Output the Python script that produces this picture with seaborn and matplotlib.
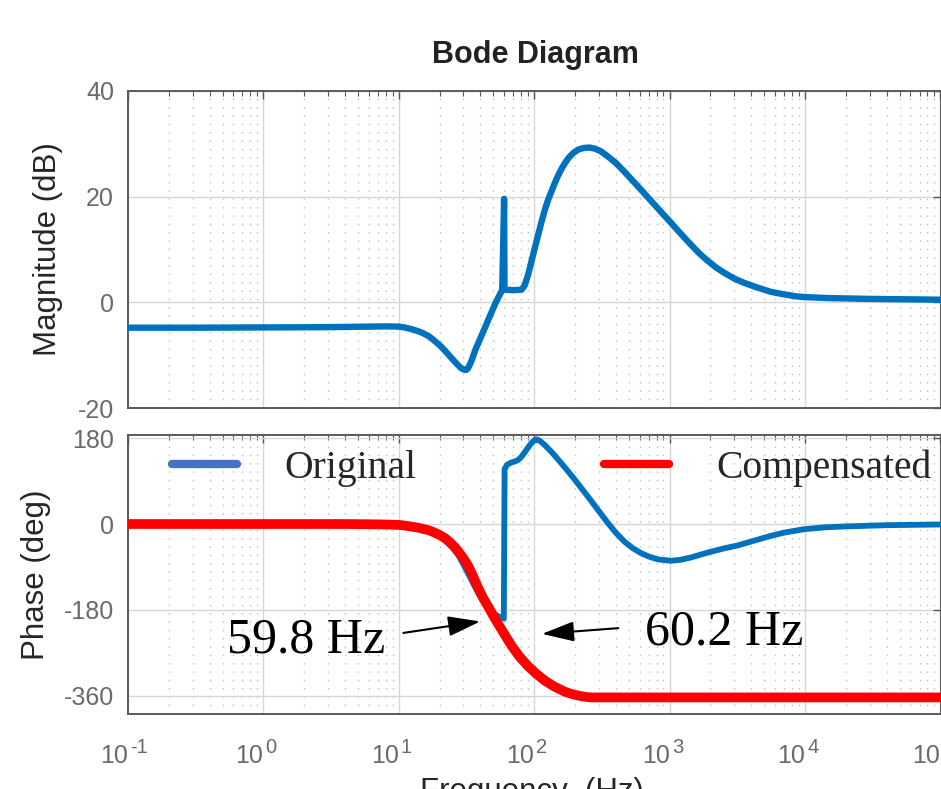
import numpy as np
import pandas as pd
import matplotlib
matplotlib.use("Agg")
import matplotlib.pyplot as plt
from matplotlib.lines import Line2D
from matplotlib.ticker import LogLocator, FixedLocator, NullFormatter
import seaborn as sns

# ---- data -------------------------------------------------------------
mag_freq = [0.1, 0.3, 1, 3, 6, 8, 10, 11, 12.5, 14, 15, 16.6, 18, 20, 22, 24,
            25, 26.5, 27.6, 29, 30.5, 31.3, 32.2, 33, 34.5, 36.6, 43.4, 51.4,
            56, 58, 59.9, 60.3, 70, 80.7, 85, 90, 95.5, 101, 107, 113, 120, 127,
            134, 142, 150, 160, 170, 180, 195, 211, 230, 256, 280, 310, 350,
            400, 464, 530, 615, 700, 817, 900, 995, 1150, 1300, 1437, 1650,
            1902, 2200, 2524, 3000, 3540, 4436, 5562, 7000, 8500, 9770, 15000,
            30200, 100000]
mag_db = [-4.8, -4.8, -4.75, -4.7, -4.6, -4.55, -4.6, -4.75, -5.1, -5.5, -5.8,
          -6.4, -7.1, -8.1, -9.2, -10.3, -10.8, -11.5, -12.0, -12.5, -12.75,
          -12.8, -12.6, -12.1, -11.0, -9.1, -4.7, -0.3, 1.6, 2.3, 19.6, 2.4,
          2.3, 2.4, 3.2, 5.2, 7.8, 10.3, 12.8, 15.2, 17.6, 19.5, 21.0, 22.6,
          24.0, 25.4, 26.5, 27.4, 28.3, 28.9, 29.2, 29.3, 29.1, 28.6, 27.6,
          26.4, 24.7, 23.1, 21.3, 19.7, 17.8, 16.6, 15.4, 13.6, 12.1, 10.9,
          9.3, 7.9, 6.6, 5.6, 4.5, 3.7, 2.8, 2.0, 1.5, 1.15, 1.0, 0.8, 0.65,
          0.5]

orig_freq = [0.1, 1, 4, 6, 8, 10, 12.5, 14, 16.6, 20, 22, 25, 27.6, 30, 32.7,
             35.5, 38.7, 42, 45.9, 50, 54, 57, 59.6, 60.4, 63, 68, 72, 76, 80,
             85, 90, 95, 101, 105, 110, 120, 135, 150, 170, 199, 230, 264, 300,
             350, 400, 464, 530, 615, 700, 817, 1023, 1200, 1437, 1900, 2524,
             3162, 4436, 5562, 7000, 9770, 14000, 20000, 40000, 100000]
orig_deg = [0, 0, 0, -0.5, -1, -2.2, -6, -9, -15, -26, -34, -50, -66, -85, -105,
            -125, -145, -162, -177, -187, -193, -196, -198, 115, 124, 129, 131,
            134, 140, 150, 160, 169, 176, 177, 174, 165, 150, 135, 117, 93, 70,
            48, 27, 2, -18, -37, -50, -61, -68, -74, -77, -75, -70, -60, -51,
            -45, -33, -25, -18, -11, -7, -5, -2.5, -1]

comp_freq = [0.1, 1, 4, 6, 8, 10, 11, 12.5, 14, 15, 16.6, 18, 20, 22, 24, 26,
             27.6, 30, 32.7, 35, 38.7, 42, 45.9, 50, 54.3, 60, 68, 78, 90.3, 104,
             120, 140, 168, 190, 210, 240, 264, 1000, 100000]
comp_deg = [0, 0, 0, -0.5, -1, -2, -3.2, -5.6, -8, -10, -13, -17, -23, -30, -39,
            -49, -58, -72, -89, -107, -135, -155, -174, -193, -210, -230, -255,
            -278, -298, -314, -328, -340, -351, -356, -359, -362, -363, -363,
            -363]

y_mag_ticks = [-20, 0, 20, 40]
y_phase_ticks = [-360, -180, 0, 180]
x_decades = [0.1, 1, 10, 100, 1e3, 1e4, 1e5]
x_exponents = ["-1", "0", "1", "2", "3", "4", "5"]
series_names = ["Original", "Compensated"]
notes = ["59.8 Hz", "60.2 Hz"]

# ---- style ------------------------------------------------------------
sns.set_theme(style="white")
plt.rcParams["font.family"] = ["Liberation Sans", "DejaVu Sans"]
plt.rcParams["axes.unicode_minus"] = False

BLUE = "#0072BD"
RED = "#FF0000"
TICK_GRAY = "#6a6a6a"

fig = plt.figure(figsize=(9.41, 7.89), dpi=100)
W, H = 941, 789
left, right = 128 / W, 940.5 / W
ax1 = fig.add_axes([left, 1 - 408 / H, right - left, 317 / H])
ax2 = fig.add_axes([left, 1 - 714 / H, right - left, 279 / H], sharex=ax1)

mag_df = pd.DataFrame({"f": mag_freq, "v": mag_db})
orig_df = pd.DataFrame({"f": orig_freq, "v": orig_deg})
comp_df = pd.DataFrame({"f": comp_freq, "v": comp_deg})

for ax in (ax1, ax2):
    ax.set_xscale("log")

sns.lineplot(data=mag_df, x="f", y="v", ax=ax1, color=BLUE, lw=4.6,
             estimator=None, sort=False, legend=False, zorder=3)
sns.lineplot(data=orig_df, x="f", y="v", ax=ax2, color=BLUE, lw=4.2,
             estimator=None, sort=False, legend=False, zorder=3)
sns.lineplot(data=comp_df, x="f", y="v", ax=ax2, color=RED, lw=7,
             estimator=None, sort=False, legend=False, zorder=4)

ax1.set_ylim(-20, 40)
ax2.set_ylim(-397.7, 186.3)
ax1.set_xlim(0.1, 1e5)
ax1.yaxis.set_major_locator(FixedLocator(y_mag_ticks))
ax2.yaxis.set_major_locator(FixedLocator(y_phase_ticks))

for ax in (ax1, ax2):
    ax.xaxis.set_major_locator(FixedLocator(x_decades))
    ax.xaxis.set_minor_locator(LogLocator(base=10, subs=np.arange(2, 10), numticks=100))
    ax.xaxis.set_major_formatter(NullFormatter())
    ax.xaxis.set_minor_formatter(NullFormatter())
    ax.grid(True, which="major", color="#d6d6d6", lw=1.0, ls="-", zorder=0)
    ax.grid(True, which="minor", axis="x", color="#bdbdbd", lw=1.0,
            ls=(0, (1, 5)), zorder=0)
    ax.set_axisbelow(True)
    ax.tick_params(which="both", direction="in", top=True, right=True,
                   color="#555555", labelcolor=TICK_GRAY, labelsize=18,
                   labelfontfamily="Liberation Sans")
    ax.tick_params(which="major", length=6, width=1)
    ax.tick_params(which="minor", length=3.5, width=0.8)
    ax.tick_params(axis="y", pad=10)
    for sp in ax.spines.values():
        sp.set_color("#5a5a5a")
        sp.set_linewidth(1.4)
    ax.set_xlabel("")

# decade labels: "10" with a raised exponent
xax = ax2.get_xaxis_transform()
for f, e in zip(x_decades, x_exponents):
    ax2.annotate("10", xy=(f, 0), xycoords=xax, xytext=(0, -35.3),
                 textcoords="offset points", ha="right", va="baseline",
                 fontsize=18, color=TICK_GRAY, annotation_clip=False)
    ax2.annotate(e, xy=(f, 0), xycoords=xax, xytext=(1.5, -28.1),
                 textcoords="offset points", ha="left", va="baseline",
                 fontsize=14.5, color=TICK_GRAY, annotation_clip=False)

label_font = dict(family="Liberation Sans", size=22.5, color="#262626")
ax1.set_ylabel("Magnitude (dB)", **label_font)
ax2.set_ylabel("Phase (deg)", **label_font)
ax1.yaxis.set_label_coords(-0.080, 0.5)
ax2.yaxis.set_label_coords(-0.095, 0.5)
ax2.set_xlabel("Frequency  (Hz)", **label_font)
ax2.xaxis.set_label_coords(0.4966, -0.226)

fig.text(535 / W, 1 - 55 / H, "Bode Diagram", ha="center", va="center",
         family="Liberation Sans", weight="bold", size=22, color="#222222")

# legend drawn as a single row across the phase panel
handles = [Line2D([0], [0], color="#4472C4", lw=6, solid_capstyle="round"),
           Line2D([0], [0], color=RED, lw=6, solid_capstyle="round")]
fig.legend(handles, series_names, loc="center left",
           bbox_to_anchor=(172 / W, 1 - 468 / H), ncol=2, frameon=False,
           prop=dict(family="Liberation Serif", size=28.5),
           handlelength=1.65, handletextpad=1.2, columnspacing=4.72,
           borderpad=0, borderaxespad=0)

# frequency call-outs
arrow = dict(arrowstyle="-|>,head_length=0.9,head_width=0.28", color="black",
             lw=1.5, mutation_scale=22, shrinkA=0, shrinkB=0)
ax2.annotate("", xy=(39.9, -204), xytext=(10.8, -228), arrowprops=arrow, zorder=6)
ax2.annotate("", xy=(114, -230), xytext=(418, -218), arrowprops=arrow, zorder=6)
ax2.text(0.539, -270, notes[0], ha="left", va="baseline",
         family="Liberation Serif", size=36, color="black", zorder=6)
ax2.text(661, -253, notes[1], ha="left", va="baseline",
         family="Liberation Serif", size=36, color="black", zorder=6)

fig.savefig("out.png", dpi=100)
